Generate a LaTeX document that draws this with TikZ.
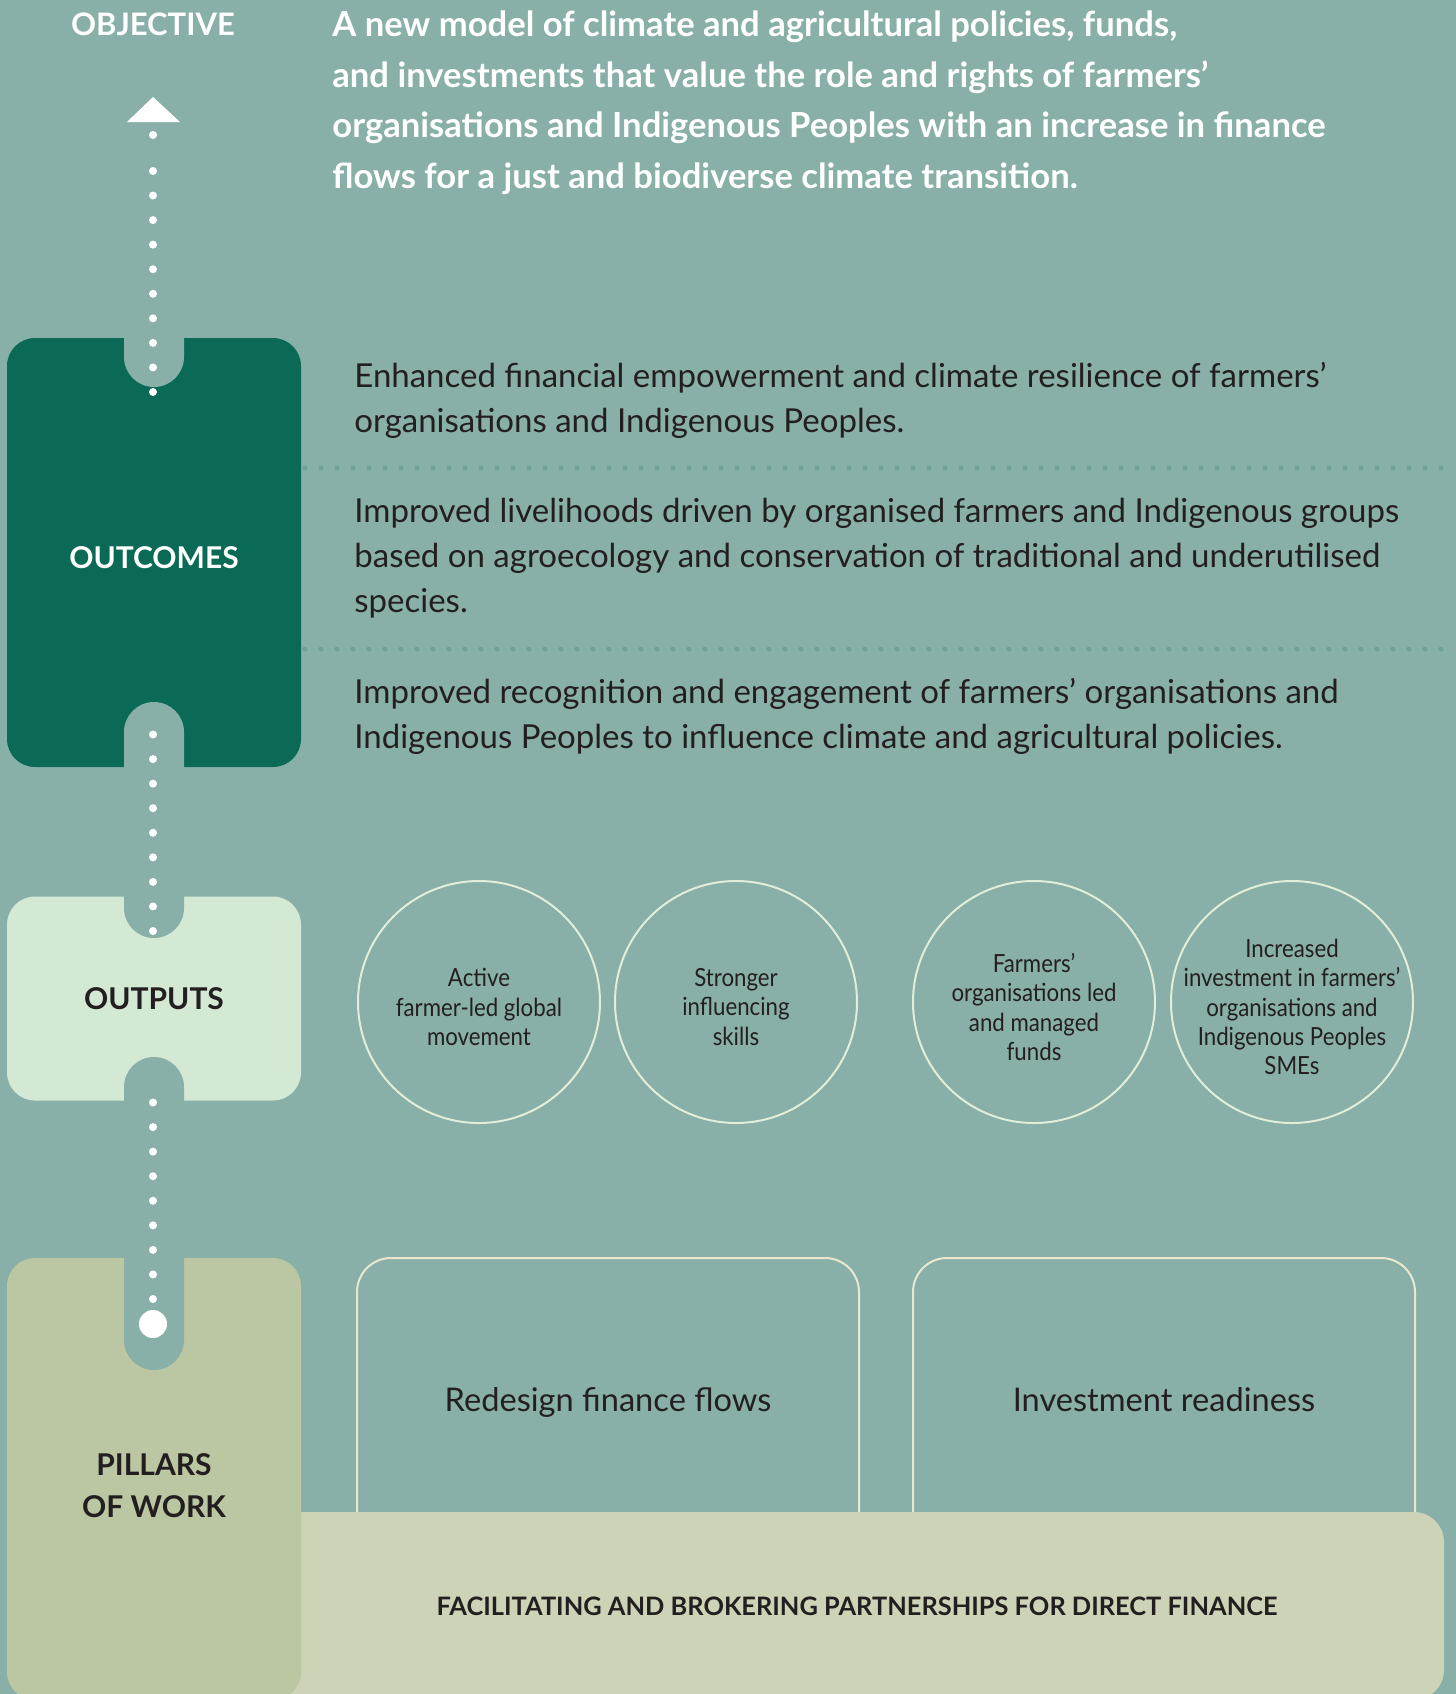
\documentclass[tikz,border=0pt]{standalone}
\usepackage{fontspec}
\setmainfont{Lato}
\newfontfamily\condfont[FakeStretch=0.89]{Lato}
\usetikzlibrary{positioning}

\definecolor{bgteal}{HTML}{88B0A8}
\definecolor{darkgreen}{HTML}{0A6A56}
\definecolor{paleout}{HTML}{D3E9D4}
\definecolor{pillarcol}{HTML}{BBC6A3}
\definecolor{bandcol}{HTML}{CCD3B6}
\definecolor{textdark}{HTML}{231F20}
\definecolor{circstroke}{HTML}{E2EED8}
\definecolor{boxstroke}{HTML}{E9E8CF}
\definecolor{sepcol}{HTML}{6FA195}

\tikzset{
  stage/.style={rounded corners=14pt, minimum width=147pt, inner sep=0pt,
    align=center, font=\bfseries\fontsize{15}{21}\selectfont},
  dotline/.style={white, line width=4pt, line cap=round, dash pattern=on 0pt off 12.28pt},
  sepline/.style={sepcol, line width=2.5pt, line cap=round, dash pattern=on 0pt off 8pt},
  notch/.style={fill=bgteal, rounded corners=15pt},
  outcome/.style={anchor=north west, inner sep=0pt, align=left, text=textdark,
    font=\fontsize{16.5}{22.6}\selectfont},
  output/.style={circle, draw=circstroke, line width=1pt, minimum size=121pt, inner sep=0pt},
  outtext/.style={align=center, inner sep=0pt, text=textdark,
    font=\condfont\fontsize{12.5}{14.6}\selectfont},
  pillar/.style={draw=boxstroke, line width=1pt, rounded corners=17pt, minimum width=251pt,
    minimum height=145pt, text height=12pt, text depth=4pt, text=textdark,
    font=\fontsize{16.3}{20}\selectfont},
}

\begin{document}
\begin{tikzpicture}[x=0.5pt, y=-0.5pt]
  \useasboundingbox (0,0) rectangle (1456,1694);
  \clip (0,0) rectangle (1456,1694);
  \fill[bgteal] (0,0) rectangle (1456,1694);

  % objective
  \node[white, font=\bfseries\fontsize{15.5}{21}\selectfont] (objlbl) at (153,24) {OBJECTIVE};
  \node[anchor=north west, inner sep=0pt, align=left, white,
    font=\bfseries\fontsize{17.3}{25.3}\selectfont] (objtext) at (332,10.5)
    {A new model of climate and agricultural policies, funds,\\
     and investments that value the role and rights of farmers’\\
     organisations and Indigenous Peoples with an increase in finance\\
     flows for a just and biodiverse climate transition.};
  \fill[white] (127,122) -- (153,97) -- (180,122) -- cycle;

  % pillars of work
  \node[pillar] (redesign) at (608,1403) {Redesign finance flows};
  \node[pillar] (readiness) at (1164,1403) {Investment readiness};
  \node[fill=bandcol, rounded corners=15pt, minimum width=587pt, minimum height=94pt,
    text=textdark, font=\bfseries\fontsize{12.7}{14}\selectfont] (brokering) at (857,1606)
    {FACILITATING AND BROKERING PARTNERSHIPS FOR DIRECT FINANCE};
  \node[stage, fill=pillarcol, text=textdark, minimum height=221pt, text height=38.8pt] (pillars)
    at (154,1479) {PILLARS\\OF WORK};
  \fill[notch] (124,1220) rectangle (184,1370);

  % outputs
  \node[stage, fill=paleout, text=textdark, minimum height=102pt] (outputs) at (154,998.5) {OUTPUTS};
  \fill[notch] (124,860) rectangle (184,938);
  \fill[notch] (124,1057) rectangle (184,1140);

  \node[output] (movement) at (479,1002) {};
  \node[output] (skills) at (736,1002) {};
  \node[output] (funds) at (1034,1002) {};
  \node[output] (smes) at (1292,1002) {};
  \node[outtext, yshift=-2.5pt] at (movement) {Active\\farmer-led global\\movement};
  \node[outtext, yshift=-2.5pt] at (skills) {Stronger\\influencing\\skills};
  \node[outtext, yshift=-2.5pt] at (funds) {Farmers’\\organisations led\\and managed\\funds};
  \node[outtext, yshift=-2.5pt] at (smes)
    {Increased\\investment in farmers’\\organisations and\\Indigenous Peoples\\SMEs};

  % outcomes
  \node[stage, fill=darkgreen, text=white, minimum height=214.5pt, text height=15.8pt] (outcomes)
    at (154,552.5) {OUTCOMES};
  \fill[notch] (124,300) rectangle (184,387);
  \fill[notch] (124,702) rectangle (184,800);

  \node[outcome] (empower) at (354,361.5)
    {Enhanced financial empowerment and climate resilience of farmers’\\
     organisations and Indigenous Peoples.};
  \node[outcome] (livelihood) at (354,497.5)
    {Improved livelihoods driven by organised farmers and Indigenous groups\\
     based on agroecology and conservation of traditional and underutilised\\
     species.};
  \node[outcome] (recognition) at (354,677.5)
    {Improved recognition and engagement of farmers’ organisations and\\
     Indigenous Peoples to influence climate and agricultural policies.};

  \coordinate (sep1a) at (305,468);
  \coordinate (sep1b) at (1456,468);
  \coordinate (sep2a) at (305,649);
  \coordinate (sep2b) at (1456,649);
  \draw[sepline] (sep1a) -- (sep1b);
  \draw[sepline] (sep2a) -- (sep2b);

  % dotted spine
  \coordinate (pillars-in) at (153,1299);
  \coordinate (outputs-out) at (153,1078);
  \coordinate (outputs-in) at (153,931);
  \coordinate (outcomes-out) at (153,710);
  \coordinate (outcomes-in) at (153,392);
  \coordinate (obj-in) at (153,170);
  \coordinate (obj-tip) at (153,135);
  \draw[dotline] (pillars-in) -- (outputs-out);
  \draw[dotline] (outputs-in) -- (outcomes-out);
  \draw[dotline] (outcomes-in) -- (obj-in);
  \fill[white] (obj-tip) circle (2pt);
  \fill[white] (153,1324) circle (7pt);
\end{tikzpicture}
\end{document}
